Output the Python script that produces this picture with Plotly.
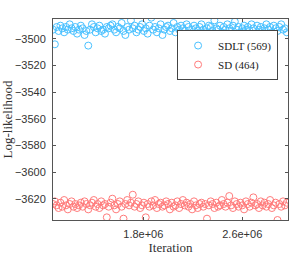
import plotly.graph_objects as go

iter_start = 1070000
iter_step = 15000

sdlt = [
-3493,-3504,-3491,-3494,-3490,-3492,-3495,-3491,-3493,-3489,
-3492,-3494,-3491,-3496,-3493,-3490,-3492,-3497,-3494,-3505,
-3493,-3489,-3491,-3495,-3492,-3490,-3494,-3493,-3496,-3491,
-3492,-3490,-3489,-3493,-3495,-3491,-3492,-3488,-3494,-3497,
-3491,-3493,-3486,-3492,-3490,-3495,-3493,-3491,-3489,-3494,
-3492,-3496,-3490,-3484,-3493,-3491,-3495,-3492,-3489,-3497,
-3493,-3491,-3490,-3494,-3492,-3488,-3495,-3491,-3493,-3490,
-3492,-3494,-3489,-3491,-3496,-3493,-3490,-3492,-3494,-3491,
-3489,-3493,-3495,-3492,-3490,-3491,-3494,-3486,-3492,-3493,
-3490,-3495,-3491,-3493,-3489,-3492,-3494,-3490,-3487,-3493,
-3491,-3495,-3492,-3490,-3493,-3491,-3494,-3489,-3492,-3496,
-3490,-3493,-3491,-3494,-3492,-3489,-3493,-3491,-3495,-3490,
-3492,-3494,-3491,-3489,-3493,-3492,-3495]

sd = [
-3624,-3622,-3625,-3627,-3623,-3626,-3621,-3625,-3628,-3624,
-3622,-3626,-3624,-3627,-3625,-3623,-3626,-3622,-3624,-3628,
-3625,-3623,-3621,-3626,-3624,-3627,-3622,-3625,-3624,-3634,
-3626,-3623,-3620,-3625,-3628,-3624,-3622,-3626,-3635,-3624,
-3621,-3625,-3623,-3617,-3626,-3624,-3622,-3627,-3625,-3623,
-3634,-3624,-3626,-3622,-3625,-3621,-3627,-3624,-3623,-3626,
-3625,-3622,-3624,-3628,-3623,-3626,-3625,-3622,-3627,-3624,
-3621,-3625,-3623,-3626,-3624,-3628,-3622,-3625,-3627,-3624,
-3623,-3626,-3624,-3635,-3625,-3622,-3624,-3627,-3623,-3626,
-3625,-3621,-3624,-3626,-3623,-3618,-3625,-3627,-3622,-3624,
-3626,-3623,-3625,-3628,-3622,-3624,-3626,-3623,-3619,-3625,
-3624,-3627,-3622,-3625,-3623,-3626,-3624,-3621,-3627,-3625,
-3623,-3636,-3624,-3626,-3622,-3625,-3623]

iterations = [iter_start + i * iter_step for i in range(len(sdlt))]

x_ticks = [1800000, 2600000]
x_tick_labels = ["1.8e+06", "2.6e+06"]
y_ticks = [-3500, -3520, -3540, -3560, -3580, -3600, -3620]

SERIF = '"Liberation Serif", "DejaVu Serif", serif'
SANS = '"Liberation Sans", Arial, sans-serif'

fig = go.Figure()
fig.add_trace(go.Scatter(x=iterations, y=sdlt, mode="markers", name="SDLT (569)",
                         marker=dict(symbol="circle-open", size=7, color="#49c1ff", line=dict(width=1))))
fig.add_trace(go.Scatter(x=iterations, y=sd, mode="markers", name="SD (464)",
                         marker=dict(symbol="circle-open", size=7, color="#ff7b7b", line=dict(width=1))))

axis_common = dict(showline=True, linecolor="#555", linewidth=1, mirror="ticks", ticks="inside",
                   ticklen=3, tickcolor="#555", showgrid=False, zeroline=False, automargin=False,
                   tickfont=dict(family=SANS, size=11, color="#333"))

fig.update_layout(
    width=299, height=257,
    margin=dict(l=53, r=11, t=19, b=37),
    plot_bgcolor="white", paper_bgcolor="white",
    xaxis=dict(range=[1070000, 2970000], tickvals=x_ticks, ticktext=x_tick_labels,
               ticklabelstandoff=4,
               title=dict(text="Iteration", standoff=2,
                          font=dict(family=SERIF, size=13, color="#333")),
               **axis_common),
    yaxis=dict(range=[-3636, -3485], tickvals=y_ticks, ticklabelstandoff=4,
               title=dict(text="Log-likelihood", standoff=4,
                          font=dict(family=SERIF, size=13, color="#333")),
               **axis_common),
    legend=dict(x=0.528, y=0.945, xanchor="left", yanchor="top",
                bordercolor="#444", borderwidth=1, bgcolor="white",
                font=dict(family=SERIF, size=11, color="#222"),
                tracegroupgap=0, itemwidth=30, entrywidth=70,
                ),
    showlegend=True,
)

fig.write_html("out.html", config={"displayModeBar": False},
               post_script="document.body.style.margin='0';")
